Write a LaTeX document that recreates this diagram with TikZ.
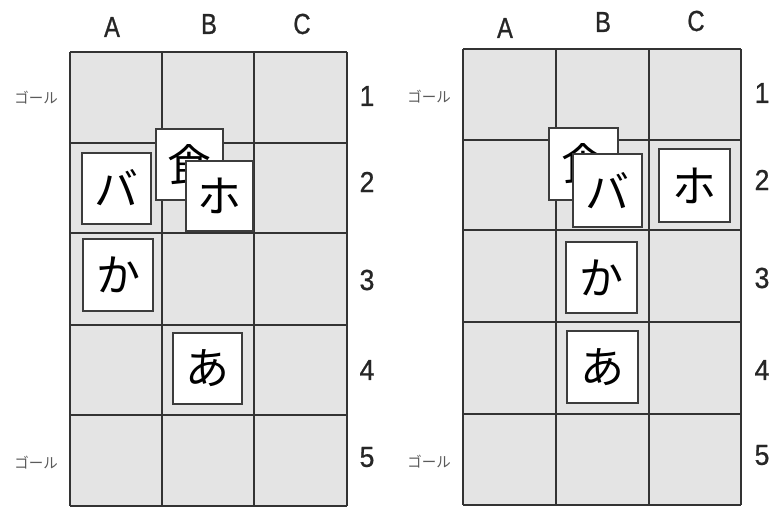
\documentclass[tikz,border=0pt]{standalone}
\usepackage{fontspec}
\newfontfamily\cjk{Noto Sans CJK JP}
\newfontfamily\labfont[FakeStretch=0.82,FakeBold=0.8]{Liberation Sans}
\newfontfamily\numfont[FakeStretch=0.92,FakeBold=0.8]{Liberation Sans}
\definecolor{cellgray}{HTML}{E4E4E4}
\definecolor{linegray}{HTML}{333333}
\definecolor{piecegray}{HTML}{3C3C3C}
\definecolor{goalgray}{HTML}{5A5A5A}
\tikzset{
  gridline/.style={draw=linegray, line width=1.6pt},
  piece/.style={draw=piecegray, line width=2pt, fill=white, inner sep=0pt,
    minimum width=69pt, minimum height=71pt,
    font=\cjk\fontsize{44}{44}\selectfont},
  thinpiece/.style={piece, line width=1.2pt},
  collab/.style={font=\labfont\fontsize{29}{29}\selectfont, text=black!85},
  rowlab/.style={font=\numfont\fontsize{29}{29}\selectfont, text=black!85},
  goal/.style={font=\cjk\fontsize{14.5}{14.5}\selectfont, text=goalgray}
}
\begin{document}
\begin{tikzpicture}[x=1pt,y=-1pt]
\useasboundingbox (0,0) rectangle (776,507);
% ---------- left board ----------
\fill[cellgray] (70,52) rectangle (347,506);
\foreach \x in {70,162,254,347} \draw[gridline] (\x,52) -- (\x,506);
\foreach \y in {52,143,233,325,415,506} \draw[gridline] (70,\y) -- (347,\y);
\node[collab] (lA) at (112,27) {A};
\node[collab] (lB) at (209,24) {B};
\node[collab] (lC) at (302,24) {C};
\node[rowlab] (l1) at (367,96) {1};
\node[rowlab] (l2) at (367,182) {2};
\node[rowlab] (l3) at (367,280) {3};
\node[rowlab] (l4) at (367,370) {4};
\node[rowlab] (l5) at (367,457) {5};
\node[goal] (lg1) at (36,98) {ゴール};
\node[goal] (lg5) at (36,463) {ゴール};
\node[piece] (lba) at (116,188) {バ};
\node[thinpiece, minimum width=67pt] (lsyoku) at (189.5,164.5) {食};
\node[piece, minimum width=67pt, minimum height=70pt] (lho) at (219.5,196) {ホ};
\node[piece, minimum width=70pt, minimum height=72pt] (lka) at (118,275) {か};
\node[piece] (la) at (207.5,368.5) {あ};
% ---------- right board ----------
\fill[cellgray] (463,49) rectangle (741,505);
\foreach \x in {463,556,649,741} \draw[gridline] (\x,49) -- (\x,505);
\foreach \y in {49,140,230,322,414,505} \draw[gridline] (463,\y) -- (741,\y);
\node[collab] (rA) at (505,28) {A};
\node[collab] (rB) at (603,22) {B};
\node[collab] (rC) at (696,21) {C};
\node[rowlab] (r1) at (762,93) {1};
\node[rowlab] (r2) at (762,180) {2};
\node[rowlab] (r3) at (762,278) {3};
\node[rowlab] (r4) at (762,370) {4};
\node[rowlab] (r5) at (762,455) {5};
\node[goal] (rg1) at (429,97) {ゴール};
\node[goal] (rg5) at (429,462) {ゴール};
\node[thinpiece, minimum height=72pt] (rsyoku) at (583.5,164) {食};
\node[piece, minimum height=73pt] (rba) at (607.5,190.5) {バ};
\node[piece, minimum width=71pt, minimum height=73pt] (rho) at (694.5,185.5) {ホ};
\node[piece, minimum width=71pt] (rka) at (601.5,277.5) {か};
\node[piece, minimum width=71pt, minimum height=72pt] (ra) at (602.5,367) {あ};
\end{tikzpicture}
\end{document}
